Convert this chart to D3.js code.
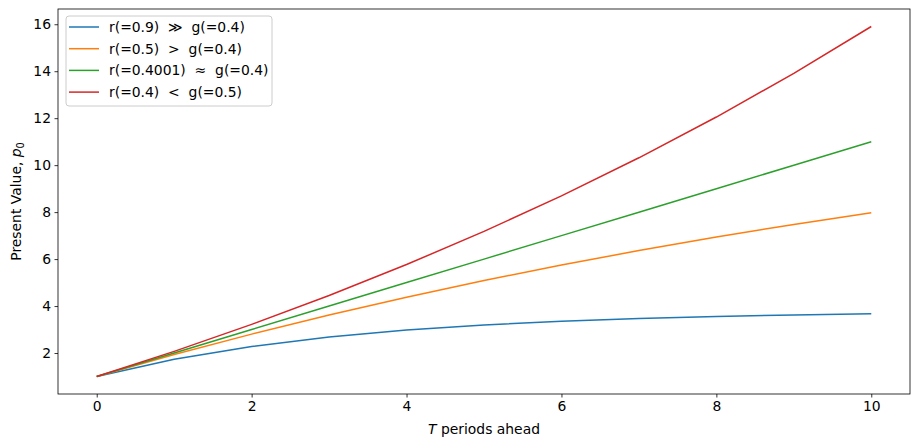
<!DOCTYPE html>
<html><head><meta charset="utf-8">
<script src="https://cdn.jsdelivr.net/npm/d3@7"></script>
<style>body{margin:0;background:#fff}svg{font-family:"DejaVu Sans",sans-serif}</style>
</head><body><svg id="c" width="920" height="448"></svg>
<script>
const periods = [0,1,2,3,4,5,6,7,8,9,10];
const seriesNames = ["r(=0.9) \u226B g(=0.4)", "r(=0.5) > g(=0.4)", "r(=0.4001) \u2248 g(=0.4)", "r(=0.4) < g(=0.5)"];
const blueVals = [1, 1.737, 2.280, 2.680, 2.975, 3.192, 3.352, 3.470, 3.557, 3.621, 3.668];
const orangeVals = [1, 1.933, 2.804, 3.618, 4.376, 5.085, 5.746, 6.363, 6.938, 7.476, 7.977];
const greenVals = [1, 2.000, 3.000, 4.000, 4.999, 5.999, 6.999, 7.998, 8.997, 9.997, 10.996];
const redVals = [1, 2.071, 3.219, 4.449, 5.767, 7.179, 8.692, 10.313, 12.049, 13.910, 15.904];
const xTicks = [0,2,4,6,8,10];
const yTicks = [2,4,6,8,10,12,14,16];
const colors = ["#1f77b4","#ff7f0e","#2ca02c","#d62728"];

const allSeries = [blueVals, orangeVals, greenVals, redVals];
const svg = d3.select("#c");
const L=58, R=910, T=9, B=394;
const x = d3.scaleLinear().domain([-0.5,10.5]).range([L,R]);
const yMin = d3.min(allSeries.flat()), yMax = d3.max(allSeries.flat());
const pad = (yMax-yMin)*0.05;
const y = d3.scaleLinear().domain([yMin-pad, yMax+pad]).range([B,T]);

const line = d3.line().x((d,i)=>x(periods[i])).y(d=>y(d));
allSeries.forEach((s,k)=>{
  svg.append("path").datum(s).attr("d",line).attr("fill","none")
    .attr("stroke",colors[k]).attr("stroke-width",1.5);
});

const xa = svg.append("g").attr("transform",`translate(0,${B})`)
  .call(d3.axisBottom(x).tickValues(xTicks).tickSize(3.5).tickPadding(3.5).tickFormat(d3.format("d")));
const ya = svg.append("g").attr("transform",`translate(${L},0)`)
  .call(d3.axisLeft(y).tickValues(yTicks).tickSize(3.5).tickPadding(3.5).tickFormat(d3.format("d")));
[xa,ya].forEach(a=>{a.select(".domain").remove();
  a.selectAll("text").attr("font-size",13.9).attr("fill","#000").attr("font-family","DejaVu Sans");
  a.selectAll("line").attr("stroke","#000").attr("stroke-width",0.8);});

svg.append("rect").attr("x",L).attr("y",T).attr("width",R-L).attr("height",B-T)
  .attr("fill","none").attr("stroke","#000").attr("stroke-width",0.8);

const xl = svg.append("text").attr("x",(L+R)/2).attr("y",434).attr("text-anchor","middle").attr("font-size",13.9);
xl.append("tspan").attr("font-style","italic").text("T");
xl.append("tspan").text(" periods ahead");

const yl = svg.append("text").attr("transform",`translate(21,${(T+B)/2}) rotate(-90)`).attr("text-anchor","middle").attr("font-size",13.9);
yl.append("tspan").text("Present Value, ");
yl.append("tspan").attr("font-style","italic").text("p");
yl.append("tspan").attr("font-size",9.7).attr("dy",3).text("0");

const lg = svg.append("g");
lg.append("rect").attr("x",66).attr("y",16).attr("width",206).attr("height",90).attr("rx",3)
  .attr("fill","#fff").attr("fill-opacity",0.8).attr("stroke","#ccc").attr("stroke-width",1);
seriesNames.forEach((n,k)=>{
  const yy = 27 + k*21.7;
  lg.append("line").attr("x1",69).attr("x2",99).attr("y1",yy).attr("y2",yy).attr("stroke",colors[k]).attr("stroke-width",1.5);
  lg.append("text").attr("x",109).attr("y",yy+5).attr("font-size",13.9).attr("xml:space","preserve").text(n.replace(/ /g,"\u00A0 ").replace(/\u00A0 /g,"  "));
});
</script></body></html>
